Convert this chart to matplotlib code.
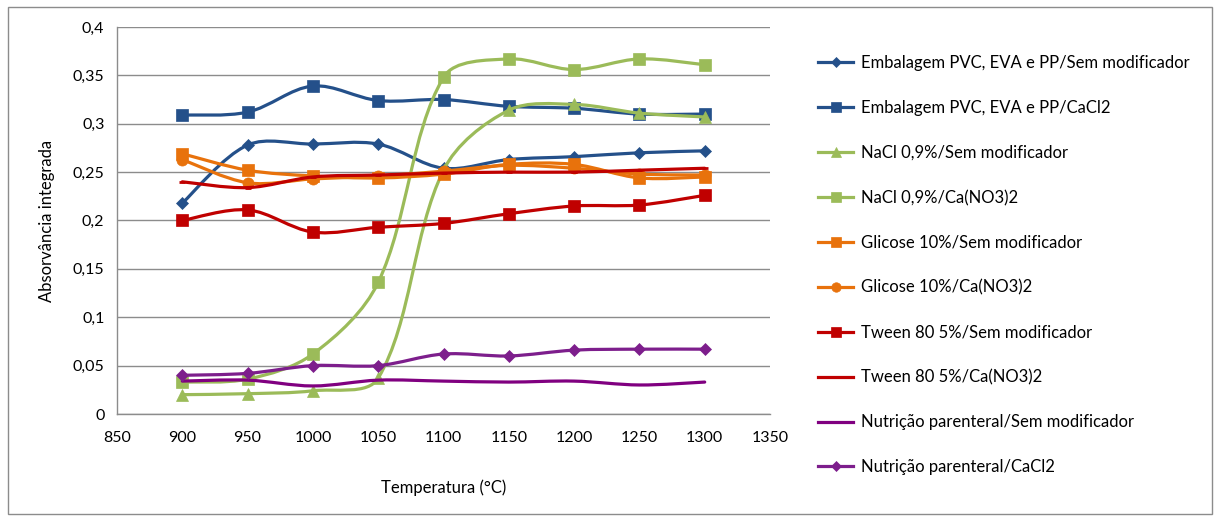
import matplotlib
matplotlib.use('Agg')
import matplotlib.pyplot as plt
from matplotlib.path import Path
from matplotlib.patches import PathPatch, Rectangle
from matplotlib.lines import Line2D
import numpy as np

plt.rcParams['font.family'] = ['Lato', 'DejaVu Sans']

temperatures = [900, 950, 1000, 1050, 1100, 1150, 1200, 1250, 1300]

embalagem_sem = [0.218, 0.278, 0.279, 0.279, 0.254, 0.263, 0.266, 0.270, 0.272]
embalagem_cacl2 = [0.309, 0.312, 0.339, 0.324, 0.325, 0.318, 0.316, 0.310, 0.310]
nacl_sem = [0.020, 0.021, 0.024, 0.037, 0.252, 0.314, 0.320, 0.311, 0.307]
nacl_cano3 = [0.033, 0.036, 0.062, 0.136, 0.348, 0.367, 0.356, 0.367, 0.361]
glicose_sem = [0.269, 0.252, 0.246, 0.244, 0.248, 0.258, 0.258, 0.244, 0.245]
glicose_cano3 = [0.263, 0.239, 0.243, 0.246, 0.251, 0.257, 0.254, 0.248, 0.247]
tween_sem = [0.200, 0.211, 0.188, 0.193, 0.197, 0.207, 0.215, 0.216, 0.226]
tween_cano3 = [0.240, 0.234, 0.245, 0.247, 0.249, 0.250, 0.250, 0.252, 0.254]
nutricao_sem = [0.034, 0.035, 0.029, 0.035, 0.034, 0.033, 0.034, 0.030, 0.033]
nutricao_cacl2 = [0.040, 0.042, 0.050, 0.050, 0.062, 0.060, 0.066, 0.067, 0.067]

labels = ['Embalagem PVC, EVA e PP/Sem modificador',
          'Embalagem PVC, EVA e PP/CaCl2',
          'NaCl 0,9%/Sem modificador',
          'NaCl 0,9%/Ca(NO3)2',
          'Glicose 10%/Sem modificador',
          'Glicose 10%/Ca(NO3)2',
          'Tween 80 5%/Sem modificador',
          'Tween 80 5%/Ca(NO3)2',
          'Nutrição parenteral/Sem modificador',
          'Nutrição parenteral/CaCl2']

x_ticks = [850, 900, 950, 1000, 1050, 1100, 1150, 1200, 1250, 1300, 1350]
y_ticks = [0, 0.05, 0.1, 0.15, 0.2, 0.25, 0.3, 0.35, 0.4]
y_tick_labels = ['0', '0,05', '0,1', '0,15', '0,2', '0,25', '0,3', '0,35', '0,4']

series = [embalagem_sem, embalagem_cacl2, nacl_sem, nacl_cano3, glicose_sem,
          glicose_cano3, tween_sem, tween_cano3, nutricao_sem, nutricao_cacl2]

# (color, marker, markersize)
styles = [('#24508A', 'D', 6.5),
          ('#24508A', 's', 8),
          ('#9BBB59', '^', 8),
          ('#9BBB59', 's', 8),
          ('#E8720C', 's', 8),
          ('#E8720C', 'o', 8),
          ('#C00000', 's', 8),
          ('#C00000', '_', 5),
          ('#800080', None, 0),
          ('#7D1E8C', 'D', 6.5)]

TENSION = 1 / 3.0


def smooth_path(ax, xs, ys):
    # Excel-like smoothed line: cubic Beziers, control arms weighted by
    # segment length on screen so big jumps don't overshoot neighbours
    pts = ax.transData.transform(np.column_stack([xs, ys]))
    n = len(pts)
    verts = [pts[0]]
    codes = [Path.MOVETO]
    for i in range(n - 1):
        p0 = pts[i - 1] if i > 0 else pts[i]
        p1 = pts[i]
        p2 = pts[i + 1]
        p3 = pts[i + 2] if i + 2 < n else pts[i + 1]
        d01 = np.hypot(*(p1 - p0))
        d12 = np.hypot(*(p2 - p1))
        d23 = np.hypot(*(p3 - p2))
        w1 = d12 / (d01 + d12) if d01 > 0 else 0.5
        w2 = d12 / (d12 + d23) if d23 > 0 else 0.5
        c1 = p1 + (p2 - p0) * TENSION * w1
        c2 = p2 - (p3 - p1) * TENSION * w2
        verts += [c1, c2, p2]
        codes += [Path.CURVE4] * 3
    verts = ax.transData.inverted().transform(np.array(verts))
    return Path(verts, codes)


fig = plt.figure(figsize=(12.14, 5.17), dpi=100)
ax = fig.add_axes([117 / 1214, 1 - 414 / 517, (770 - 117) / 1214, (414 - 27) / 517])
ax.set_xlim(850, 1350)
ax.set_ylim(0, 0.4)

for i, (vals, (color, marker, ms)) in enumerate(zip(series, styles)):
    patch = PathPatch(smooth_path(ax, temperatures, vals), facecolor='none', edgecolor=color,
                      linewidth=2.3, zorder=3 + i, capstyle='round', joinstyle='round')
    ax.add_patch(patch)
    if marker is not None:
        ax.plot(temperatures, vals, linestyle='none', marker=marker, markersize=ms,
                color=color, markeredgewidth=2 if marker == '_' else 0.5, zorder=3 + i)

ax.set_xticks(x_ticks)
ax.set_xticklabels([str(t) for t in x_ticks])
ax.set_yticks(y_ticks)
ax.set_yticklabels(y_tick_labels)
ax.tick_params(length=0, labelsize=11.5, pad=9)
ax.tick_params(axis='x', pad=12)
ax.grid(axis='y', color='#8C8C8C', linewidth=1)
ax.set_axisbelow(True)
for side in ['top', 'right']:
    ax.spines[side].set_visible(False)
for side in ['left', 'bottom']:
    ax.spines[side].set_color('#8C8C8C')
    ax.spines[side].set_linewidth(1)

ax.set_xlabel('Temperatura (°C)', fontsize=12, labelpad=25)
ax.set_ylabel('Absorvância integrada', fontsize=12, labelpad=13)

handles = []
for color, marker, ms in styles:
    handles.append(Line2D([], [], color=color, linewidth=2.3, marker=marker,
                          markersize=ms * 0.85, markeredgewidth=2 if marker == '_' else 0.5))
fig.legend(handles, labels, loc='upper left', bbox_to_anchor=(810 / 1214, 1 - 47 / 517),
           frameon=False, fontsize=12, handlelength=2.1, handletextpad=0.45,
           labelspacing=1.73, borderpad=0)

fig.patches.append(Rectangle((8 / 1214, 3 / 517), 1204 / 1214, 507 / 517,
                             transform=fig.transFigure, facecolor='none',
                             edgecolor='#8C8C8C', linewidth=1))

fig.savefig('out.png', dpi=100)
